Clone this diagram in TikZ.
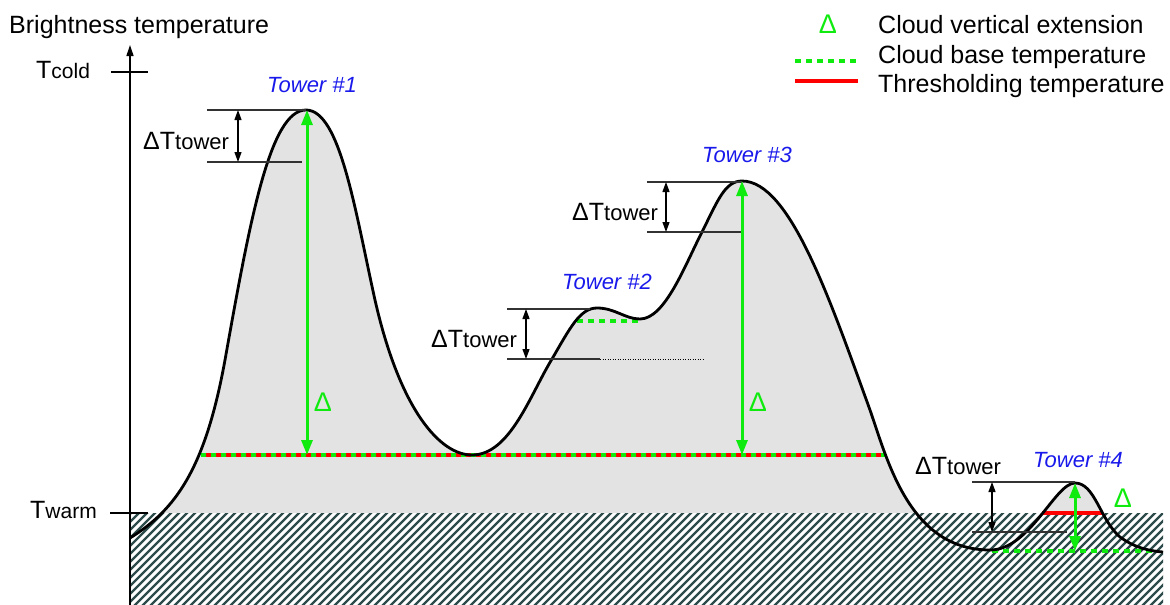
\documentclass[tikz,border=0pt]{standalone}
\usepackage{fontspec}
\setmainfont{Liberation Sans}
\usetikzlibrary{arrows.meta}
\definecolor{brightgreen}{RGB}{15,235,15}
\definecolor{towerblue}{RGB}{25,25,235}
\definecolor{hatchcol}{RGB}{45,75,75}
\definecolor{areagray}{RGB}{227,227,227}
\definecolor{markgray}{RGB}{50,50,50}
\begin{document}
\begin{tikzpicture}[x=1pt,y=-1pt,
  bigtext/.style={font=\fontsize{25}{30}\selectfont, inner sep=0pt, anchor=base west},
  towerlbl/.style={font=\fontsize{22}{26}\selectfont\itshape, text=towerblue, inner sep=0pt, anchor=base west},
  dlbl/.style={font=\fontsize{27}{32}\selectfont, text=brightgreen, inner sep=0pt},
  curveline/.style={line width=2.8pt, black, line join=round},
  markerline/.style={line width=1.4pt, markgray},
  dimarrow/.style={line width=1.2pt, black, {Triangle[length=10pt,width=7pt]}-{Triangle[length=10pt,width=7pt]}},
  extarrow/.style={line width=3pt, brightgreen, {Triangle[length=15pt,width=11pt]}-{Triangle[length=15pt,width=11pt]}},
  basedash/.style={line width=4pt, brightgreen, dash pattern=on 6pt off 5pt},
  mixdash/.style={line width=4pt, brightgreen, dash pattern=on 5pt off 5pt},
  thresh/.style={line width=4pt, red},
  hatchline/.style={line width=2.4pt, hatchcol},
  tickline/.style={line width=2.5pt, black},
]
\useasboundingbox (0,0) rectangle (1170,605);

% gray area under the curve
\fill[areagray] (130,538) .. controls (175,510) and (205,470) .. (225,360)
  .. controls (250,220) and (270,110) .. (306,110)
  .. controls (340,110) and (355,210) .. (375,300)
  .. controls (400,410) and (440,455) .. (472,455)
  .. controls (510,455) and (530,395) .. (552,359)
  .. controls (570,328) and (580,308) .. (597,308)
  .. controls (615,308) and (625,319) .. (640,319)
  .. controls (665,319) and (685,265) .. (702,232)
  .. controls (718,200) and (725,181) .. (742,181)
  .. controls (790,181) and (830,300) .. (870,410)
  .. controls (888,462) and (910,550) .. (990,550)
  .. controls (1030,550) and (1055,483) .. (1075,483)
  .. controls (1095,483) and (1100,520) .. (1120,537)
  .. controls (1135,548) and (1150,551) .. (1163,552)
  -- (1163,605) -- (130,605) -- cycle;

% hatched region below T warm
\fill[white] (130,513) rectangle (1163,605);
\begin{scope}
  \clip (130,513) rectangle (1163,605);
  \foreach \x in {34,42,...,1166} \draw[hatchline] (\x,610) -- ++(102,-102);
\end{scope}

% cloud base / threshold lines
\coordinate (b1) at (201,455);
\coordinate (b2) at (886,455);
\draw[thresh] (b1) -- (b2);
\draw[mixdash] (b1) -- (b2);
\coordinate (t4a) at (1042,513);
\coordinate (t4b) at (1103,513);
\draw[thresh] (t4a) -- (t4b);
\coordinate (c2a) at (577,321);
\coordinate (c2b) at (640,321);
\draw[basedash] (c2a) -- (c2b);
\coordinate (c4a) at (992,551);
\coordinate (c4b) at (1152,551);
\draw[basedash] (c4a) -- (c4b);

% the curve
\draw[curveline] (130,538) .. controls (175,510) and (205,470) .. (225,360)
  .. controls (250,220) and (270,110) .. (306,110)
  .. controls (340,110) and (355,210) .. (375,300)
  .. controls (400,410) and (440,455) .. (472,455)
  .. controls (510,455) and (530,395) .. (552,359)
  .. controls (570,328) and (580,308) .. (597,308)
  .. controls (615,308) and (625,319) .. (640,319)
  .. controls (665,319) and (685,265) .. (702,232)
  .. controls (718,200) and (725,181) .. (742,181)
  .. controls (790,181) and (830,300) .. (870,410)
  .. controls (888,462) and (910,550) .. (990,550)
  .. controls (1030,550) and (1055,483) .. (1075,483)
  .. controls (1095,483) and (1100,520) .. (1120,537)
  .. controls (1135,548) and (1150,551) .. (1163,552);

% axis
\coordinate (ax0) at (130,605);
\coordinate (ax1) at (130,45);
\draw[line width=1.3pt, -{Triangle[length=11pt,width=7pt]}] (ax0) -- (ax1);
\coordinate (tc0) at (111,72);
\coordinate (tc1) at (148,72);
\draw[tickline] (tc0) -- (tc1);
\coordinate (tw0) at (110,513);
\coordinate (tw1) at (148,513);
\draw[tickline] (tw0) -- (tw1);

\node[bigtext] (title) at (9,33) {Brightness temperature};
\node[bigtext] (tcold) at (36,78) {T{\fontsize{21}{25}\selectfont cold}};
\node[bigtext] (twarm) at (30,518) {T{\fontsize{21}{25}\selectfont warm}};

% tower 1
\coordinate (m1a) at (207,110);
\coordinate (m1b) at (306,110);
\coordinate (m1c) at (207,162);
\coordinate (m1d) at (302,162);
\draw[markerline] (m1a) -- (m1b);
\draw[markerline] (m1c) -- (m1d);
\coordinate (d1a) at (238,110);
\coordinate (d1b) at (238,162);
\draw[dimarrow] (d1a) -- (d1b);
\node[bigtext] (dt1) at (143,149) {ΔT{\fontsize{22}{26}\selectfont tower}};
\coordinate (e1a) at (307,455);
\coordinate (e1b) at (307,110);
\draw[extarrow] (e1a) -- (e1b);
\node[dlbl] (delta1) at (323,402) {Δ};
\node[towerlbl] (tower1) at (267,92) {Tower \#1};

% tower 2
\coordinate (m2a) at (507,309);
\coordinate (m2b) at (590,309);
\coordinate (m2c) at (507,359);
\coordinate (m2d) at (600,359);
\coordinate (m2e) at (705,359);
\draw[markerline] (m2a) -- (m2b);
\draw[markerline] (m2c) -- (m2d);
\draw[line width=0.9pt, black, dash pattern=on 1pt off 1.5pt] (m2d) -- (m2e);
\coordinate (d2a) at (526,309);
\coordinate (d2b) at (526,359);
\draw[dimarrow] (d2a) -- (d2b);
\node[bigtext] (dt2) at (431,347) {ΔT{\fontsize{22}{26}\selectfont tower}};
\node[towerlbl] (tower2) at (562,289) {Tower \#2};

% tower 3
\coordinate (m3a) at (647,182);
\coordinate (m3b) at (742,182);
\coordinate (m3c) at (647,232);
\coordinate (m3d) at (742,232);
\draw[markerline] (m3a) -- (m3b);
\draw[markerline] (m3c) -- (m3d);
\coordinate (d3a) at (666,182);
\coordinate (d3b) at (666,232);
\draw[dimarrow] (d3a) -- (d3b);
\node[bigtext] (dt3) at (572,220) {ΔT{\fontsize{22}{26}\selectfont tower}};
\coordinate (e3a) at (742,455);
\coordinate (e3b) at (742,181);
\draw[extarrow] (e3a) -- (e3b);
\node[dlbl] (delta3) at (758,402) {Δ};
\node[towerlbl] (tower3) at (702,162) {Tower \#3};

% tower 4
\coordinate (m4a) at (972,482);
\coordinate (m4b) at (1075,482);
\coordinate (m4c) at (972,532);
\coordinate (m4d) at (1067,532);
\draw[markerline] (m4a) -- (m4b);
\draw[markerline] (m4c) -- (m4d);
\coordinate (d4a) at (992,482);
\coordinate (d4b) at (992,532);
\draw[dimarrow] (d4a) -- (d4b);
\node[bigtext] (dt4) at (915,474) {ΔT{\fontsize{22}{26}\selectfont tower}};
\coordinate (e4a) at (1075,551);
\coordinate (e4b) at (1075,483);
\draw[extarrow] (e4a) -- (e4b);
\node[dlbl] (delta4) at (1123,498) {Δ};
\node[towerlbl] (tower4) at (1033,467) {Tower \#4};

% legend
\node[dlbl, anchor=base] (legdelta) at (828,33) {Δ};
\coordinate (lg1) at (795,61);
\coordinate (lg2) at (858,61);
\draw[basedash] (lg1) -- (lg2);
\coordinate (lr1) at (795,81);
\coordinate (lr2) at (858,81);
\draw[thresh] (lr1) -- (lr2);
\node[bigtext] (leg1) at (878,33) {Cloud vertical extension};
\node[bigtext] (leg2) at (878,63) {Cloud base temperature};
\node[bigtext] (leg3) at (878,92) {Thresholding temperature};
\end{tikzpicture}
\end{document}
